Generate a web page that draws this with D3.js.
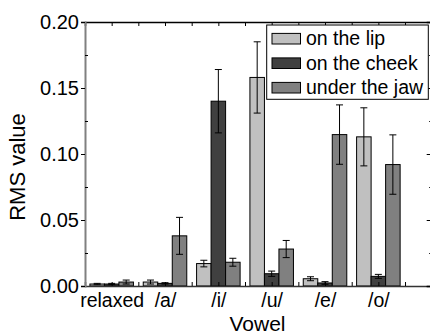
<!DOCTYPE html>
<html>
<head>
<meta charset="utf-8">
<script src="https://cdn.jsdelivr.net/npm/d3@7"></script>
<style>
  body { margin: 0; background: #fff; }
  svg { display: block; font-family: "Liberation Sans", Arial, sans-serif; }
</style>
</head>
<body>
<svg id="chart" width="430" height="334"></svg>
<script>
const categories = ['relaxed', '/a/', '/i/', '/u/', '/e/', '/o/'];
const series = ['on the lip', 'on the cheek', 'under the jaw'];
const lipValues = [0.0015, 0.003, 0.017, 0.158, 0.0055, 0.113];
const lipErrors = [0.0005, 0.0015, 0.0025, 0.027, 0.0015, 0.022];
const cheekValues = [0.0015, 0.002, 0.140, 0.0093, 0.0023, 0.0073];
const cheekErrors = [0.0005, 0.0005, 0.024, 0.002, 0.001, 0.0015];
const jawValues = [0.003, 0.038, 0.018, 0.028, 0.1147, 0.092];
const jawErrors = [0.0015, 0.014, 0.003, 0.0065, 0.0225, 0.0225];
const yMajorTicks = [0, 0.05, 0.10, 0.15, 0.20];
const yMinorTicks = [0.025, 0.075, 0.125, 0.175];
const colors = ['#c0c0c0', '#404040', '#808080'];

const svg = d3.select('#chart');
const mLeft = 85, mRight = 431.7, mTop = 22, mBottom = 286;
const font = '"Liberation Sans", Arial, sans-serif';

const x = d3.scaleLinear().domain([0.5, 7]).range([mLeft, mRight]);
const y = d3.scaleLinear().domain([0, 0.2]).range([mBottom, mTop]);
const barW = x(0.272) - x(0);

const allVals = [lipValues, cheekValues, jawValues];
const allErrs = [lipErrors, cheekErrors, jawErrors];
const rows = [];
categories.forEach((c, i) => {
  series.forEach((s, j) => {
    rows.push({ cat: i + 1, s: j, v: allVals[j][i], e: allErrs[j][i] });
  });
});

// bars
svg.append('g').selectAll('rect').data(rows).enter().append('rect')
  .attr('x', d => x(d.cat) + (d.s - 1.5) * barW)
  .attr('y', d => y(d.v))
  .attr('width', barW)
  .attr('height', d => y(0) - y(d.v))
  .attr('fill', d => colors[d.s])
  .attr('stroke', '#000').attr('stroke-width', 1);

// error bars
const eb = svg.append('g').attr('stroke', '#000').attr('stroke-width', 1);
const cx = d => x(d.cat) + (d.s - 1) * barW;
eb.selectAll('.v').data(rows).enter().append('line')
  .attr('x1', cx).attr('x2', cx)
  .attr('y1', d => y(d.v + d.e)).attr('y2', d => y(Math.max(0, d.v - d.e)));
eb.selectAll('.t').data(rows).enter().append('line')
  .attr('x1', d => cx(d) - 3.5).attr('x2', d => cx(d) + 3.5)
  .attr('y1', d => y(d.v + d.e)).attr('y2', d => y(d.v + d.e));
eb.selectAll('.b').data(rows).enter().append('line')
  .attr('x1', d => cx(d) - 3.5).attr('x2', d => cx(d) + 3.5)
  .attr('y1', d => y(Math.max(0, d.v - d.e))).attr('y2', d => y(Math.max(0, d.v - d.e)));

// axes
const halfTicks = d3.range(0.5, 7.01, 0.5);
const noLab = () => '';
svg.append('g').attr('transform', `translate(0,${mTop})`)
  .call(d3.axisBottom(x).tickValues(halfTicks).tickSize(4).tickFormat(noLab))
  .call(g => g.select('.domain').attr('stroke-width', 1.5));
svg.append('g').attr('transform', `translate(0,${mBottom})`)
  .call(d3.axisTop(x).tickValues(halfTicks).tickSize(4).tickFormat(noLab))
  .call(g => g.select('.domain').attr('stroke', '#333').attr('stroke-width', 1.5));
svg.append('g').attr('transform', `translate(0,${mBottom})`)
  .call(d3.axisBottom(x).tickValues(d3.range(1, 7)).tickSize(0).tickPadding(7)
    .tickFormat(d => categories[d - 1]))
  .call(g => g.attr('font-size', null).attr('font-family', null))
  .call(g => g.select('.domain').remove())
  .call(g => g.selectAll('text').style('font-size', '19.5px').style('font-family', font).attr('fill', '#000'));

svg.append('g').attr('transform', `translate(${mLeft},0)`)
  .call(d3.axisLeft(y).tickValues(yMajorTicks).tickSize(4).tickPadding(2).tickFormat(d3.format('.2f')))
  .call(g => g.attr('font-size', null).attr('font-family', null))
  .call(g => g.select('.domain').attr('stroke', '#808080').attr('stroke-width', 2))
  .call(g => g.selectAll('text').style('font-size', '20px').style('font-family', font).attr('fill', '#000'));
svg.append('g').attr('transform', `translate(${mLeft},0)`)
  .call(d3.axisRight(y).tickValues(yMinorTicks).tickSize(3).tickFormat(noLab))
  .call(g => g.select('.domain').remove());
svg.append('g').attr('transform', `translate(${mRight},0)`)
  .call(d3.axisLeft(y).tickValues(yMajorTicks).tickSize(5).tickFormat(noLab))
  .call(g => g.select('.domain').attr('stroke-width', 1.5));
svg.append('g').attr('transform', `translate(${mRight},0)`)
  .call(d3.axisLeft(y).tickValues(yMinorTicks).tickSize(2.5).tickFormat(noLab))
  .call(g => g.select('.domain').remove());

// axis titles
svg.append('text').attr('transform', 'translate(25,167) rotate(-90)')
  .attr('text-anchor', 'middle').style('font-size', '22px').text('RMS value');
svg.append('text').attr('x', 257.5).attr('y', 330.5)
  .attr('text-anchor', 'middle').style('font-size', '21px').text('Vowel');

// legend
const lg = svg.append('g');
lg.append('rect').attr('x', 266.7).attr('y', 25).attr('width', 161.6).attr('height', 74.3)
  .attr('fill', '#fff').attr('stroke', '#000').attr('stroke-width', 1);
series.forEach((s, i) => {
  const yy = 38.7 + i * 24.5;
  lg.append('rect').attr('x', 272).attr('y', yy - 5.3).attr('width', 28.5).attr('height', 10.6)
    .attr('fill', colors[i]).attr('stroke', '#000').attr('stroke-width', 1);
  lg.append('text').attr('x', 306).attr('y', yy + 6.5).style('font-size', '19.5px').text(s);
});
</script>
</body>
</html>
